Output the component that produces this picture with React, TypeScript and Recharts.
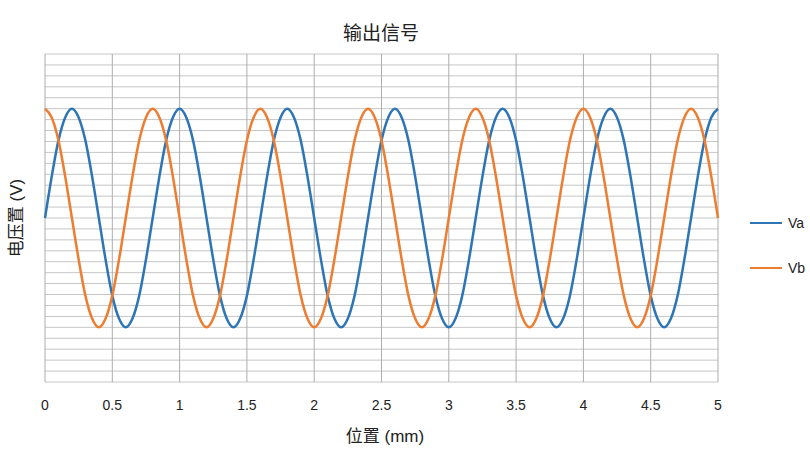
import { CartesianGrid, Line, LineChart, XAxis, YAxis } from "recharts";

// position along the strip, mm (0.05 step)
const positions = [
  0, 0.05, 0.1, 0.15, 0.2, 0.25, 0.3, 0.35, 0.4, 0.45,
  0.5, 0.55, 0.6, 0.65, 0.7, 0.75, 0.8, 0.85, 0.9, 0.95,
  1, 1.05, 1.1, 1.15, 1.2, 1.25, 1.3, 1.35, 1.4, 1.45,
  1.5, 1.55, 1.6, 1.65, 1.7, 1.75, 1.8, 1.85, 1.9, 1.95,
  2, 2.05, 2.1, 2.15, 2.2, 2.25, 2.3, 2.35, 2.4, 2.45,
  2.5, 2.55, 2.6, 2.65, 2.7, 2.75, 2.8, 2.85, 2.9, 2.95,
  3, 3.05, 3.1, 3.15, 3.2, 3.25, 3.3, 3.35, 3.4, 3.45,
  3.5, 3.55, 3.6, 3.65, 3.7, 3.75, 3.8, 3.85, 3.9, 3.95,
  4, 4.05, 4.1, 4.15, 4.2, 4.25, 4.3, 4.35, 4.4, 4.45,
  4.5, 4.55, 4.6, 4.65, 4.7, 4.75, 4.8, 4.85, 4.9, 4.95,
  5,
];

const va = [
  0, 0.38, 0.71, 0.92, 1, 0.92, 0.71, 0.38, 0, -0.38,
  -0.71, -0.92, -1, -0.92, -0.71, -0.38, 0, 0.38, 0.71, 0.92,
  1, 0.92, 0.71, 0.38, 0, -0.38, -0.71, -0.92, -1, -0.92,
  -0.71, -0.38, 0, 0.38, 0.71, 0.92, 1, 0.92, 0.71, 0.38,
  0, -0.38, -0.71, -0.92, -1, -0.92, -0.71, -0.38, 0, 0.38,
  0.71, 0.92, 1, 0.92, 0.71, 0.38, 0, -0.38, -0.71, -0.92,
  -1, -0.92, -0.71, -0.38, 0, 0.38, 0.71, 0.92, 1, 0.92,
  0.71, 0.38, 0, -0.38, -0.71, -0.92, -1, -0.92, -0.71, -0.38,
  0, 0.38, 0.71, 0.92, 1, 0.92, 0.71, 0.38, 0, -0.38,
  -0.71, -0.92, -1, -0.92, -0.71, -0.38, 0, 0.38, 0.71, 0.92,
  1,
];

const vb = [
  1, 0.92, 0.71, 0.38, 0, -0.38, -0.71, -0.92, -1, -0.92,
  -0.71, -0.38, 0, 0.38, 0.71, 0.92, 1, 0.92, 0.71, 0.38,
  0, -0.38, -0.71, -0.92, -1, -0.92, -0.71, -0.38, 0, 0.38,
  0.71, 0.92, 1, 0.92, 0.71, 0.38, 0, -0.38, -0.71, -0.92,
  -1, -0.92, -0.71, -0.38, 0, 0.38, 0.71, 0.92, 1, 0.92,
  0.71, 0.38, 0, -0.38, -0.71, -0.92, -1, -0.92, -0.71, -0.38,
  0, 0.38, 0.71, 0.92, 1, 0.92, 0.71, 0.38, 0, -0.38,
  -0.71, -0.92, -1, -0.92, -0.71, -0.38, 0, 0.38, 0.71, 0.92,
  1, 0.92, 0.71, 0.38, 0, -0.38, -0.71, -0.92, -1, -0.92,
  -0.71, -0.38, 0, 0.38, 0.71, 0.92, 1, 0.92, 0.71, 0.38,
  0,
];

const xTicks = [0, 0.5, 1, 1.5, 2, 2.5, 3, 3.5, 4, 4.5, 5];
const yTicks = [
  -1.5, -1.4, -1.3, -1.2, -1.1, -1, -0.9, -0.8, -0.7, -0.6, -0.5,
  -0.4, -0.3, -0.2, -0.1, 0, 0.1, 0.2, 0.3, 0.4, 0.5,
  0.6, 0.7, 0.8, 0.9, 1, 1.1, 1.2, 1.3, 1.4, 1.5,
];

const BLUE = "#2E75B6";
const ORANGE = "#ED7D31";
const SANS = "Arial, 'Liberation Sans', 'Noto Sans CJK SC', sans-serif";

const data = positions.map((x, i) => ({ x, Va: va[i], Vb: vb[i] }));

const legendItems = [
  { name: "Va", color: BLUE },
  { name: "Vb", color: ORANGE },
];

const NoTick = () => <g />;

export default function App() {
  return (
    <div style={{ position: "absolute", left: 0, top: 0, width: 810, height: 455, background: "#fff" }}>
      <LineChart
        width={810}
        height={455}
        data={data}
        margin={{ top: 54, right: 92, bottom: 43, left: 44 }}
      >
        <CartesianGrid vertical={false} stroke="#c6c6c6" strokeWidth={1} />
        <CartesianGrid horizontal={false} stroke="#adadad" strokeWidth={1} />
        <XAxis
          dataKey="x"
          type="number"
          domain={[0, 5]}
          ticks={xTicks}
          height={30}
          axisLine={false}
          tickLine={false}
          tickMargin={12}
          tick={{ fill: "#222", fontSize: 14, fontFamily: SANS }}
        />
        <YAxis
          type="number"
          domain={[-1.5, 1.5]}
          ticks={yTicks}
          interval={0}
          width={1}
          tick={NoTick}
          tickLine={false}
          axisLine={false}
        />
        <Line type="monotone" dataKey="Va" stroke={BLUE} strokeWidth={2.5} dot={false} isAnimationActive={false} />
        <Line type="monotone" dataKey="Vb" stroke={ORANGE} strokeWidth={2.5} dot={false} isAnimationActive={false} />
      </LineChart>
      <div style={{ position: "absolute", left: 750, top: 200, fontFamily: SANS, fontSize: 14, color: "#222" }}>
        {legendItems.map((it) => (
          <div key={it.name} style={{ display: "flex", alignItems: "center", height: 45 }}>
            <span style={{ display: "inline-block", width: 32, height: 2, background: it.color, marginRight: 6 }} />
            <span>{it.name}</span>
          </div>
        ))}
      </div>
      <div
        style={{
          position: "absolute", left: 0, width: 762, top: 20, textAlign: "center",
          fontFamily: "'Noto Sans CJK SC', sans-serif", fontSize: 19, lineHeight: "24px", color: "#222",
        }}
      >
        输出信号
      </div>
      <div
        style={{
          position: "absolute", left: 0, width: 770, top: 425, textAlign: "center",
          fontFamily: SANS, fontSize: 17, lineHeight: "24px", color: "#222",
        }}
      >
        位置 (mm)
      </div>
      <div
        style={{
          position: "absolute", left: 17, top: 218, transform: "translate(-50%, -50%) rotate(-90deg)",
          whiteSpace: "nowrap", fontFamily: SANS, fontSize: 17, lineHeight: "22px", color: "#222",
        }}
      >
        电压置 (V)
      </div>
    </div>
  );
}
